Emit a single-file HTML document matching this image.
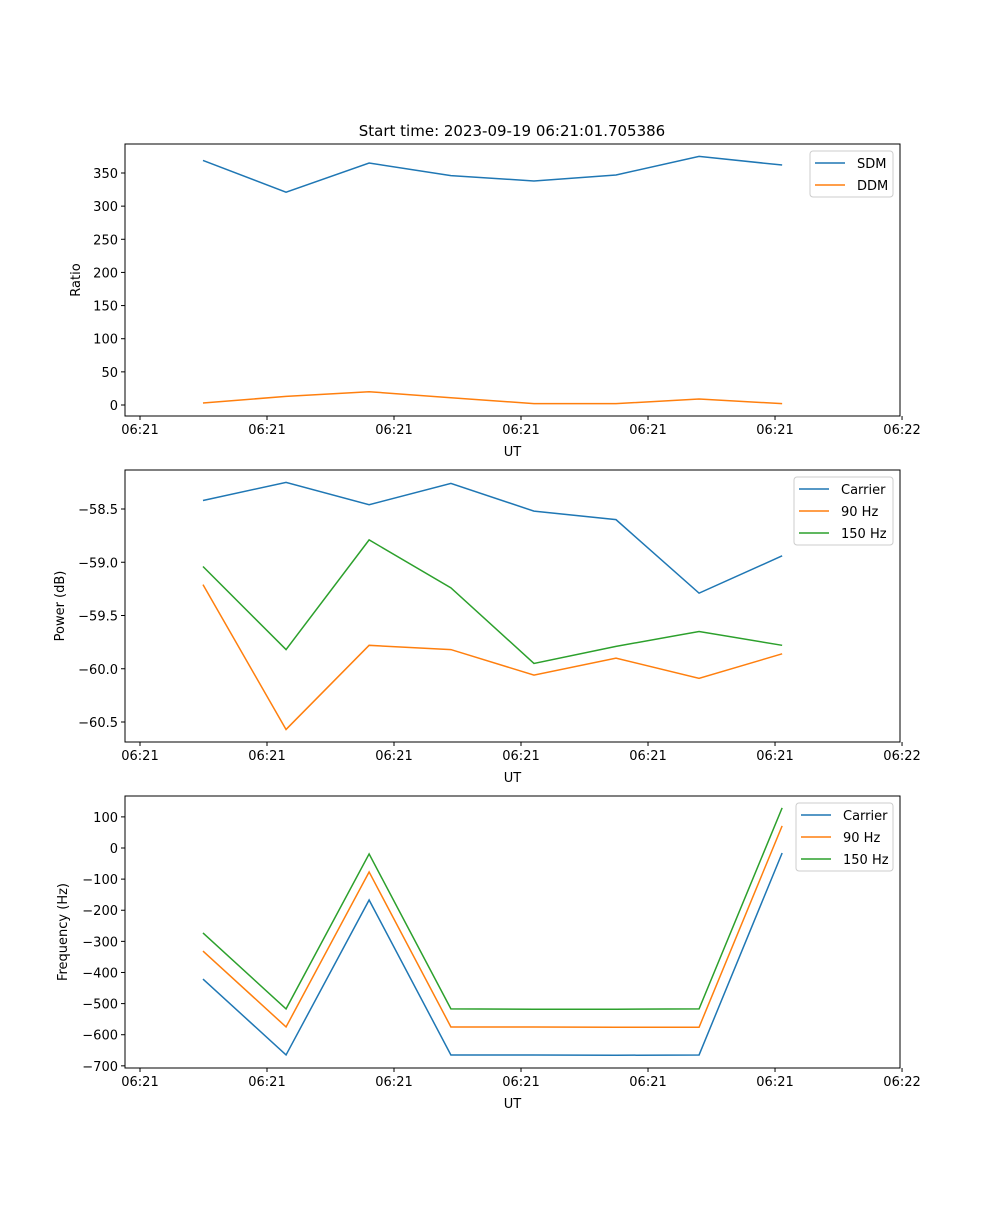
<!DOCTYPE html>
<html><head><meta charset="utf-8"><style>
body{margin:0;background:#fff}
svg text{font-family:"DejaVu Sans","Liberation Sans",sans-serif;font-size:13px;fill:#000}
</style></head><body>
<svg id="fig" width="1000" height="1200" xmlns="http://www.w3.org/2000/svg">
<text x="512" y="136" text-anchor="middle" style="font-size:15px">Start time: 2023-09-19 06:21:01.705386</text>
</svg>
<script>
const times = [0.248,0.575,0.902,1.224,1.551,1.874,2.201,2.528];
const xTicks = [0,0.5,1,1.5,2,2.5,3];
const xTickLabels = ["06:21","06:21","06:21","06:21","06:21","06:21","06:22"];
const sdm = [369,321,365,346,338,347,375,362];
const ddm = [3,13,20,11,2,2,9,2];
const ratioTicks = [0,50,100,150,200,250,300,350];
const pCarrier = [-58.42,-58.25,-58.46,-58.26,-58.52,-58.60,-59.29,-58.94];
const p90 = [-59.21,-60.57,-59.78,-59.82,-60.06,-59.90,-60.09,-59.86];
const p150 = [-59.04,-59.82,-58.79,-59.24,-59.95,-59.79,-59.65,-59.78];
const powerTicks = [-60.5,-60.0,-59.5,-59.0,-58.5];
const fCarrier = [-421,-665,-167,-665,-665,-666,-665,-16];
const f90 = [-331,-575,-77,-575,-575,-576,-576,71];
const f150 = [-273,-517,-19,-517,-518,-518,-517,129];
const freqTicks = [-700,-600,-500,-400,-300,-200,-100,0,100];

const NS="http://www.w3.org/2000/svg";
const svg=document.getElementById('fig');
function mk(tag,attrs,parent){const e=document.createElementNS(NS,tag);for(const k in attrs)e.setAttribute(k,attrs[k]);(parent||svg).appendChild(e);return e;}
const L=125,R=900;
const xs=t=>L+(t-(-0.059))/(2.992-(-0.059))*(R-L);

function panel(name,top,bot,yScale,yTicks,yFmt,ylabel,series,legendW){
  const g=mk('g',{});
  
  
  // series
  series.forEach(s=>{
    const pts=s.vals.map((v,i)=>xs(times[i]).toFixed(2)+','+yScale(v).toFixed(2)).join(' ');
    const pl=mk('polyline',{points:pts,fill:'none',stroke:s.color,'stroke-width':1.5},g);
    
    
  });
  const fr=mk('rect',{x:L,y:top,width:R-L,height:bot-top,fill:'none',stroke:'#000','stroke-width':1},g);
  
  
  xTicks.forEach((t,i)=>{
    const x=xs(t);
    mk('line',{x1:x,x2:x,y1:bot,y2:bot+4,stroke:'#000'},g);
    const tx=mk('text',{x:x,y:bot+18,'text-anchor':'middle'},g);
    tx.textContent=xTickLabels[i];
    
    
  });
  const xl=mk('text',{x:(L+R)/2,y:bot+40,'text-anchor':'middle'},g);
  xl.textContent='UT';
  
  
  yTicks.forEach(v=>{
    const y=yScale(v);
    mk('line',{x1:L-4,x2:L,y1:y,y2:y,stroke:'#000'},g);
    const tx=mk('text',{x:L-7,y:y+5,'text-anchor':'end'},g);
    tx.textContent=yFmt(v);
    
    
  });
  const ylx=ylabel.x, yly=(top+bot)/2;
  const yl=mk('text',{x:ylx,y:yly,'text-anchor':'middle',transform:`rotate(-90 ${ylx} ${yly})`},g);
  yl.textContent=ylabel.t;
  
  
  // legend
  const lx=R-7-legendW, ly=top+7, lh=series.length*22+2;
  const lg=mk('g',{},g);
  
  
  mk('rect',{x:lx,y:ly,width:legendW,height:lh,rx:3,fill:'#fff','fill-opacity':0.8,stroke:'#ccc'},lg);
  series.forEach((s,i)=>{
    const yy=ly+12+i*22;
    mk('line',{x1:lx+5,x2:lx+35,y1:yy,y2:yy,stroke:s.color,'stroke-width':1.5},lg);
    const t=mk('text',{x:lx+47,y:yy+5},lg);
    t.textContent=s.label;
    
    
  });
}
const blue='#1f77b4',orange='#ff7f0e',green='#2ca02c';
panel('ratio',144,416,v=>405-v*232/350,ratioTicks,v=>String(v),{x:80,t:'Ratio'},
  [{key:'sdm',label:'SDM',vals:sdm,color:blue},{key:'ddm',label:'DDM',vals:ddm,color:orange}],83);
panel('power',470,742,v=>509+(-58.5-v)*106.5,powerTicks,v=>'\u2212'+Math.abs(v).toFixed(1),{x:64,t:'Power (dB)'},
  [{key:'carrier',label:'Carrier',vals:pCarrier,color:blue},{key:'90hz',label:'90 Hz',vals:p90,color:orange},{key:'150hz',label:'150 Hz',vals:p150,color:green}],99);
panel('frequency',796,1068,v=>848-v*0.3112,freqTicks,v=>(v<0?'\u2212':'')+Math.abs(v),{x:67,t:'Frequency (Hz)'},
  [{key:'carrier',label:'Carrier',vals:fCarrier,color:blue},{key:'90hz',label:'90 Hz',vals:f90,color:orange},{key:'150hz',label:'150 Hz',vals:f150,color:green}],97);
</script>
</body></html>
